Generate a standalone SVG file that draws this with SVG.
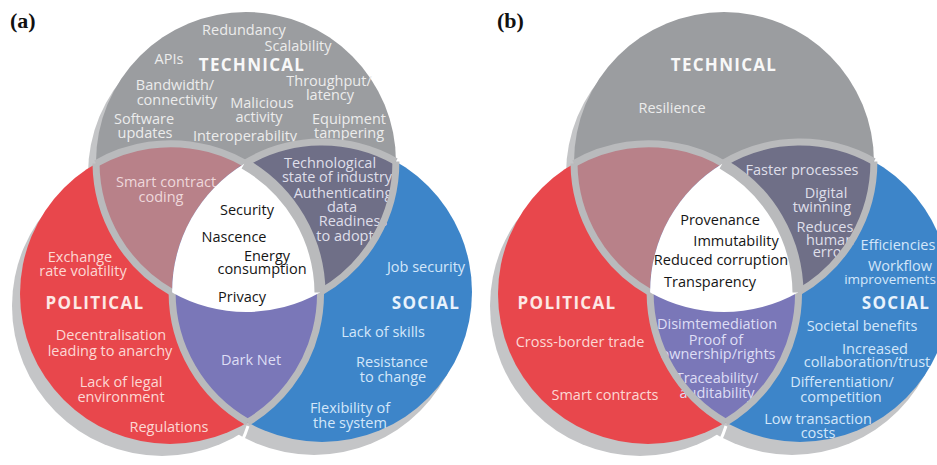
<svg xmlns="http://www.w3.org/2000/svg" xmlns:xlink="http://www.w3.org/1999/xlink" width="937" height="465" viewBox="0 0 937 465">
<style>
  .it{font-family:"Open Sans","Noto Sans",sans-serif;font-size:14.5px;text-anchor:middle}
  .hd{font-family:"Open Sans","Noto Sans",sans-serif;font-size:17px;font-weight:700;letter-spacing:1.3px;text-anchor:middle}
  .panel{font-family:"Liberation Serif","Times New Roman",serif;font-size:22px;font-weight:700;fill:#111}
  .tg{fill:#ececec}
  .th{fill:#f8f8f8}
  .tr{fill:#fcd8d4}
  .trh{fill:#fde8e5}
  .tb{fill:#d4e7fa}
  .tbh{fill:#e8f2fc}
  .tp{fill:#eed8db}
  .ts{fill:#dfdfea}
  .tv{fill:#dedef5}
  .tc{fill:#151515}
  .shadow{fill:#c4c5c7}
  .rim{fill:none;stroke:#b9babc;stroke-width:7}
</style>
<defs>
  <clipPath id="clipT"><circle cx="246" cy="162" r="150"/></clipPath>
  <clipPath id="clipP"><circle cx="170" cy="294" r="150"/></clipPath>
  <clipPath id="clipS"><circle cx="322" cy="292" r="150"/></clipPath>

  <!-- circle bodies and overlap lenses -->
  <g id="venn-base">
    <circle class="shadow" cx="238" cy="174" r="150"/>
    <circle class="shadow" cx="162" cy="306" r="150"/>
    <circle class="shadow" cx="314" cy="305" r="150"/>
    <circle cx="246" cy="162" r="150" fill="#9b9da0"/>
    <circle cx="170" cy="294" r="150" fill="#e8474c"/>
    <circle cx="322" cy="292" r="150" fill="#3d85c9"/>
    <circle cx="246" cy="162" r="150" fill="#b88189" clip-path="url(#clipP)"/>
    <circle cx="246" cy="162" r="150" fill="#6f6f87" clip-path="url(#clipS)"/>
    <circle cx="170" cy="294" r="150" fill="#7a77b8" clip-path="url(#clipS)"/>
  </g>

  <!-- interlocking rims and the shared core -->
  <g id="venn-rims">
    <path class="rim" d="M96,163.5 A150,150 0 0 1 247.7,422.3"/>
    <path class="rim" d="M244.3,163.7 A150,150 0 0 1 395.9,161.5"/>
    <path class="rim" d="M172.1,292.5 A150,150 0 0 0 247.7,422.3"/>
    <path class="rim" d="M96,163.5 A150,150 0 0 0 172.1,292.5"/>
    <path class="rim" d="M320,292.5 A150,150 0 0 0 395.9,161.5"/>
    <path d="M244.3,163.7 A150,150 0 0 1 320,292.5 A150,150 0 0 1 172.1,292.5 A150,150 0 0 1 244.3,163.7 Z" fill="#ffffff"/>
    <path class="rim" style="stroke-width:11" d="M244.3,163.7 A150,150 0 0 1 320,292.5"/>
    <path d="M248,426 Q243,442 232,459" fill="none" stroke="#ffffff" stroke-width="3"/>
  </g>
</defs>

<!-- ===== Panel (a) ===== -->
<g id="panel-a">
  <text class="panel" x="10" y="28">(a)</text>
  <use xlink:href="#venn-base"/>

  <g id="a-technical">
    <text class="hd th" x="252" y="71">TECHNICAL</text>
    <text class="it tg" x="244" y="35">Redundancy</text>
    <text class="it tg" x="298" y="51">Scalability</text>
    <text class="it tg" x="169" y="64">APIs</text>
    <text class="it tg" x="175" y="90">Bandwidth/</text>
    <text class="it tg" x="177" y="105">connectivity</text>
    <text class="it tg" x="329" y="86">Throughput/</text>
    <text class="it tg" x="330" y="100">latency</text>
    <text class="it tg" x="262" y="108">Malicious</text>
    <text class="it tg" x="259" y="122">activity</text>
    <text class="it tg" x="144" y="124">Software</text>
    <text class="it tg" x="145" y="138">updates</text>
    <text class="it tg" x="349" y="124">Equipment</text>
    <text class="it tg" x="349" y="138">tampering</text>
    <text class="it tg" x="245" y="141">Interoperability</text>
  </g>

  <g id="a-technical-political">
    <text class="it tp" x="166" y="187">Smart contract</text>
    <text class="it tp" x="161" y="202">coding</text>
  </g>

  <g id="a-technical-social">
    <text class="it ts" x="330" y="168">Technological</text>
    <text class="it ts" x="337" y="182">state of industry</text>
    <text class="it ts" x="343" y="198">Authenticating</text>
    <text class="it ts" x="342" y="212">data</text>
    <text class="it ts" x="353" y="226">Readiness</text>
    <text class="it ts" x="345" y="241">to adopt</text>
  </g>

  <g id="a-political">
    <text class="it tr" x="80" y="262">Exchange</text>
    <text class="it tr" x="83" y="276">rate volatility</text>
    <text class="hd trh" x="95" y="309">POLITICAL</text>
    <text class="it tr" x="111" y="340">Decentralisation</text>
    <text class="it tr" x="110" y="356">leading to anarchy</text>
    <text class="it tr" x="121" y="387">Lack of legal</text>
    <text class="it tr" x="121" y="402">environment</text>
    <text class="it tr" x="169" y="432">Regulations</text>
  </g>

  <g id="a-political-social">
    <text class="it tv" x="251" y="365">Dark Net</text>
  </g>

  <g id="a-social">
    <text class="it tb" x="426" y="272">Job security</text>
    <text class="hd tbh" x="426" y="309">SOCIAL</text>
    <text class="it tb" x="383" y="337">Lack of skills</text>
    <text class="it tb" x="392" y="367">Resistance</text>
    <text class="it tb" x="393" y="382">to change</text>
    <text class="it tb" x="350" y="413">Flexibility of</text>
    <text class="it tb" x="350" y="428">the system</text>
  </g>

  <use xlink:href="#venn-rims"/>

  <g id="a-core">
    <text class="it tc" x="247" y="215">Security</text>
    <text class="it tc" x="234" y="242">Nascence</text>
    <text class="it tc" x="267" y="261">Energy</text>
    <text class="it tc" x="262" y="274">consumption</text>
    <text class="it tc" x="242" y="302">Privacy</text>
  </g>
</g>

<!-- ===== Panel (b) ===== -->
<g id="panel-b">
  <text class="panel" x="497" y="28">(b)</text>
  <use xlink:href="#venn-base" x="478"/>

  <g id="b-technical">
    <text class="hd th" x="724" y="71">TECHNICAL</text>
    <text class="it tg" x="672" y="113">Resilience</text>
  </g>

  <g id="b-technical-social">
    <text class="it ts" x="802" y="175">Faster processes</text>
    <text class="it ts" x="826" y="198">Digital</text>
    <text class="it ts" x="822" y="212">twinning</text>
    <text class="it ts" x="825" y="232">Reduces</text>
    <text class="it ts" x="830" y="245">human</text>
    <text class="it ts" x="830" y="257">error</text>
  </g>

  <g id="b-political">
    <text class="hd trh" x="567" y="309">POLITICAL</text>
    <text class="it tr" x="580" y="347">Cross-border trade</text>
    <text class="it tr" x="605" y="400">Smart contracts</text>
  </g>

  <g id="b-political-social">
    <text class="it tv" x="717" y="329">Disimtemediation</text>
    <text class="it tv" x="716" y="345">Proof of</text>
    <text class="it tv" x="718" y="359">ownership/rights</text>
    <text class="it tv" x="717" y="383">Traceability/</text>
    <text class="it tv" x="717" y="398">auditability</text>
  </g>

  <g id="b-social">
    <text class="it tb" x="898" y="250">Efficiencies</text>
    <text class="it tb" x="900" y="271">Workflow</text>
    <text class="it tb" style="font-size:13.5px" x="890" y="284">improvements</text>
    <text class="hd tbh" x="896" y="309">SOCIAL</text>
    <text class="it tb" x="862" y="331">Societal benefits</text>
    <text class="it tb" x="875" y="354">Increased</text>
    <text class="it tb" x="867" y="367">collaboration/trust</text>
    <text class="it tb" x="842" y="387">Differentiation/</text>
    <text class="it tb" x="841" y="402">competition</text>
    <text class="it tb" x="818" y="424">Low transaction</text>
    <text class="it tb" x="818" y="438">costs</text>
  </g>

  <use xlink:href="#venn-rims" x="478"/>

  <g id="b-core">
    <text class="it tc" x="720" y="225">Provenance</text>
    <text class="it tc" x="736" y="246">Immutability</text>
    <text class="it tc" x="721" y="265">Reduced corruption</text>
    <text class="it tc" x="710" y="287">Transparency</text>
  </g>
</g>
</svg>
